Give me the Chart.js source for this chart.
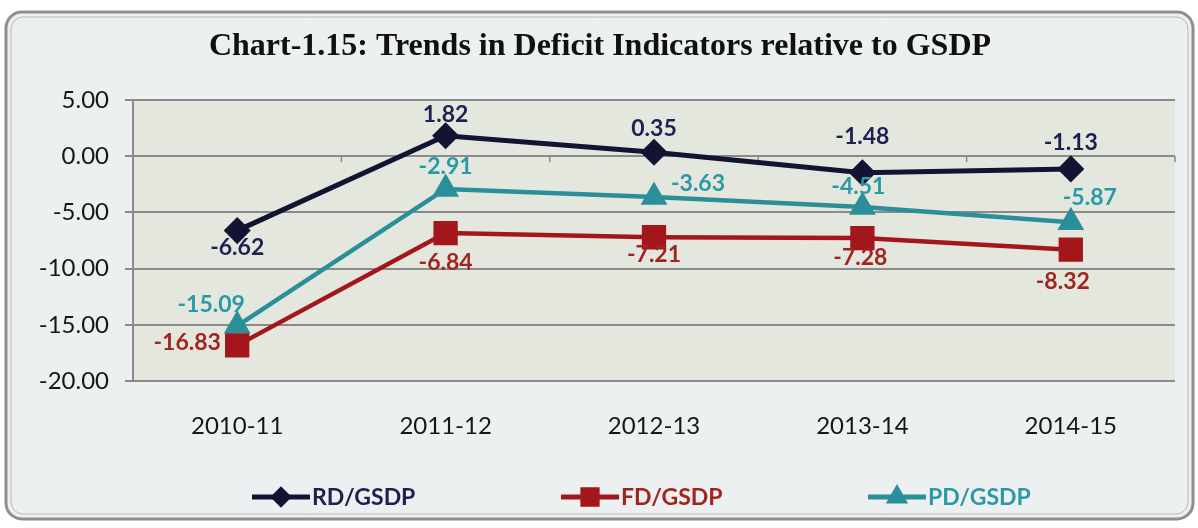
<!DOCTYPE html>
<html>
<head>
<meta charset="utf-8">
<script src="https://cdn.jsdelivr.net/npm/chart.js@4"></script>
<style>
  html, body { margin: 0; padding: 0; background: #ffffff; }
  #wrap { width: 1198px; height: 528px; }
</style>
</head>
<body>
<div id="wrap"><canvas id="deficitChart" width="1198" height="528"></canvas></div>
<script>
const categories = ["2010-11", "2011-12", "2012-13", "2013-14", "2014-15"];
const rdGsdp = [-6.62, 1.82, 0.35, -1.48, -1.13];
const fdGsdp = [-16.83, -6.84, -7.21, -7.28, -8.32];
const pdGsdp = [-15.09, -2.91, -3.63, -4.51, -5.87];
const yTicks = [5, 0, -5, -10, -15, -20];

// where each value label sits relative to its point [dx, dy]
const rdLabelOffsets = [[0, 17], [0, -21], [0, -24], [0, -36], [0, -26]];
const fdLabelOffsets = [[-50, -3], [0, 29], [0, 17], [-2, 20], [-8, 32]];
const pdLabelOffsets = [[-26, -21], [0, -22], [44, -13], [-4, -20], [19, -25]];

const RD_COLOR = "#131333";
const FD_COLOR = "#a3161b";
const PD_COLOR = "#2a8f99";

const ctx = document.getElementById("deficitChart");

// frame, plot background, title, value labels and legend
const decor = {
  id: "decor",
  beforeDraw(chart) {
    const c = chart.ctx;
    const a = chart.chartArea;
    c.save();
    c.fillStyle = "#ffffff";
    c.fillRect(0, 0, chart.width, chart.height);
    // rounded outer frame
    c.beginPath();
    c.roundRect(6, 12, 1187, 507, 16);
    c.fillStyle = "#edf0f0";
    c.fill();
    c.lineWidth = 3;
    c.strokeStyle = "#8f8f8f";
    c.stroke();
    c.beginPath();
    c.roundRect(11, 17, 1177, 497, 12);
    c.lineWidth = 1;
    c.strokeStyle = "#b9bbb8";
    c.stroke();
    // plot area
    c.fillStyle = "#e4e7de";
    c.fillRect(a.left, a.top, a.right - a.left, a.bottom - a.top);
    c.restore();
  },
  beforeDatasetsDraw(chart) {
    // small category separators hanging off the zero line
    const c = chart.ctx;
    const xs = chart.scales.x;
    const y0 = chart.scales.y.getPixelForValue(0);
    const half = (xs.getPixelForValue(1) - xs.getPixelForValue(0)) / 2;
    c.save();
    c.strokeStyle = "#8a8a8a";
    c.lineWidth = 1.5;
    for (let i = 0; i < categories.length; i++) {
      const x = xs.getPixelForValue(i) + half;
      c.beginPath();
      c.moveTo(x, y0);
      c.lineTo(x, y0 + 6);
      c.stroke();
    }
    c.restore();
  },
  afterDatasetsDraw(chart) {
    const c = chart.ctx;
    const offsets = [rdLabelOffsets, fdLabelOffsets, pdLabelOffsets];
    c.save();
    c.font = "bold 23px Lato, 'Open Sans', sans-serif";
    c.textAlign = "center";
    c.textBaseline = "middle";
    chart.data.datasets.forEach((ds, i) => {
      const meta = chart.getDatasetMeta(i);
      c.fillStyle = ds.labelColor;
      meta.data.forEach((pt, j) => {
        const [dx, dy] = offsets[i][j];
        c.fillText(ds.data[j].toFixed(2), pt.x + dx, pt.y + dy);
      });
    });
    c.restore();
  },
  afterDraw(chart) {
    const c = chart.ctx;
    c.save();
    c.fillStyle = "#111111";
    c.font = "bold 32px 'Liberation Serif', 'Times New Roman', serif";
    c.textAlign = "center";
    c.textBaseline = "middle";
    c.fillText("Chart-1.15: Trends in Deficit Indicators relative to GSDP", 600, 47);

    // legend: line segment with marker, then series name
    const legendX = [252, 561, 868];
    const y = 497;
    c.font = "bold 23px Lato, 'Open Sans', sans-serif";
    c.textAlign = "left";
    chart.data.datasets.forEach((ds, i) => {
      const x = legendX[i];
      c.strokeStyle = ds.borderColor;
      c.lineWidth = 5;
      c.beginPath();
      c.moveTo(x, y);
      c.lineTo(x + 58, y);
      c.stroke();
      c.fillStyle = ds.borderColor;
      Chart.helpers.drawPoint(c, {
        pointStyle: ds.pointStyle,
        radius: ds.pointRadius * 0.72,
        borderWidth: 1
      }, x + 29, y);
      c.fillStyle = ds.labelColor;
      c.fillText(ds.label, x + 60, y + 1);
    });
    c.restore();
  }
};

function makeSeries(label, data, color, labelColor, pointStyle, radius, width) {
  return {
    label,
    data,
    borderColor: color,
    backgroundColor: color,
    pointBackgroundColor: color,
    pointBorderColor: color,
    labelColor,
    borderWidth: width,
    pointStyle,
    pointRadius: radius,
    pointHoverRadius: radius,
    tension: 0
  };
}

new Chart(ctx, {
  type: "line",
  data: {
    labels: categories,
    datasets: [
      makeSeries("RD/GSDP", rdGsdp, RD_COLOR, "#1e2050", "rectRot", 10, 5),
      makeSeries("FD/GSDP", fdGsdp, FD_COLOR, "#a0251e", "rect", 14, 4.5),
      makeSeries("PD/GSDP", pdGsdp, PD_COLOR, "#2a99a6", "triangle", 11, 4.5)
    ]
  },
  options: {
    responsive: false,
    animation: false,
    layout: { padding: { top: 100, right: 23, bottom: 87, left: 0 } },
    plugins: {
      legend: { display: false },
      title: { display: false },
      tooltip: { enabled: false }
    },
    scales: {
      x: {
        offset: true,
        grid: { display: false, drawTicks: false },
        border: { display: false },
        afterFit: (s) => { s.height = 60; },
        ticks: {
          padding: 31,
          color: "#161616",
          font: { family: "Lato, 'Open Sans', sans-serif", size: 24 }
        }
      },
      y: {
        min: -20,
        max: 5,
        afterFit: (s) => { s.width = 133; },
        afterBuildTicks: (s) => { s.ticks = yTicks.map((v) => ({ value: v })); },
        grid: { color: "#8a8a8a", lineWidth: 2, tickLength: 8 },
        border: { color: "#8a8a8a", width: 2 },
        ticks: {
          padding: 16,
          color: "#161616",
          font: { family: "Lato, 'Open Sans', sans-serif", size: 24 },
          callback: (value) => Number(value).toFixed(2)
        }
      }
    }
  },
  plugins: [decor]
});
</script>
</body>
</html>
